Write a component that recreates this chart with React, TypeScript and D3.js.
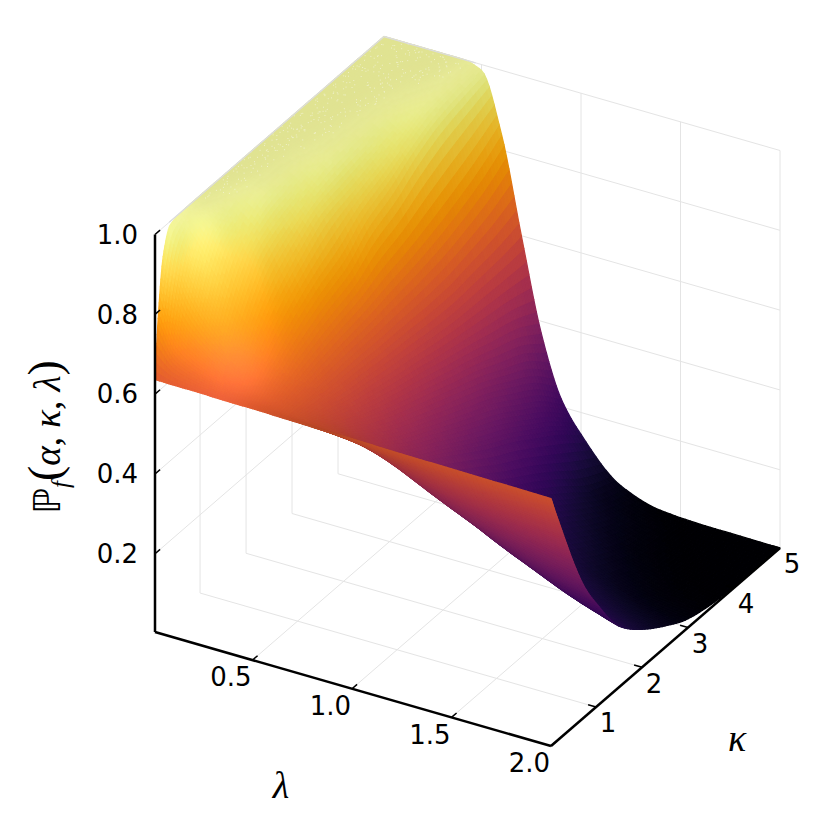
import { useMemo } from 'react'
import * as d3 from 'd3'

const lambdaGrid = [0.01, 0.1, 0.2, 0.3, 0.4, 0.5, 0.6, 0.7, 0.8, 0.9, 1.0, 1.2, 1.4, 1.6, 1.8, 2.0]
const kappaGrid = [0.02, 0.1, 0.2, 0.35, 0.5, 0.75, 1, 1.5, 2, 2.5, 3, 3.5, 4, 4.5, 5]

// one row per kappa, one column per lambda
const surfaceZ = [
  [0.637, 0.636, 0.636, 0.635, 0.634, 0.634, 0.633, 0.632, 0.631, 0.63, 0.63, 0.628, 0.627, 0.626, 0.625, 0.624],
  [0.8, 0.71, 0.68, 0.664, 0.652, 0.642, 0.634, 0.628, 0.623, 0.618, 0.614, 0.607, 0.601, 0.596, 0.592, 0.587],
  [0.927, 0.787, 0.733, 0.698, 0.673, 0.654, 0.638, 0.626, 0.615, 0.606, 0.598, 0.584, 0.572, 0.562, 0.553, 0.544],
  [0.99, 0.885, 0.803, 0.748, 0.706, 0.672, 0.644, 0.622, 0.604, 0.589, 0.574, 0.55, 0.529, 0.51, 0.495, 0.48],
  [0.997, 0.938, 0.864, 0.793, 0.737, 0.69, 0.65, 0.619, 0.593, 0.571, 0.55, 0.515, 0.485, 0.46, 0.438, 0.418],
  [1, 0.982, 0.93, 0.857, 0.783, 0.718, 0.66, 0.614, 0.577, 0.543, 0.513, 0.461, 0.42, 0.386, 0.355, 0.329],
  [1, 0.993, 0.954, 0.906, 0.82, 0.74, 0.668, 0.609, 0.562, 0.52, 0.482, 0.418, 0.37, 0.326, 0.289, 0.264],
  [1, 1, 0.991, 0.943, 0.876, 0.778, 0.682, 0.602, 0.537, 0.478, 0.428, 0.352, 0.282, 0.235, 0.191, 0.157],
  [1, 1, 0.994, 0.965, 0.92, 0.807, 0.693, 0.594, 0.516, 0.447, 0.389, 0.291, 0.225, 0.167, 0.128, 0.099],
  [1, 1, 0.998, 0.987, 0.934, 0.86, 0.71, 0.589, 0.497, 0.416, 0.349, 0.247, 0.168, 0.116, 0.08, 0.058],
  [1, 1, 1, 0.992, 0.952, 0.89, 0.725, 0.583, 0.476, 0.387, 0.31, 0.2, 0.124, 0.07, 0.04, 0.026],
  [1, 1, 1, 0.995, 0.968, 0.93, 0.745, 0.58, 0.457, 0.358, 0.276, 0.158, 0.085, 0.04, 0.018, 0.012],
  [1, 1, 1, 0.998, 0.99, 0.96, 0.77, 0.585, 0.433, 0.32, 0.236, 0.114, 0.05, 0.02, 0.01, 0.006],
  [1, 1, 1, 1, 0.998, 0.975, 0.8, 0.59, 0.41, 0.28, 0.195, 0.07, 0.03, 0.012, 0.006, 0.004],
  [1, 1, 1, 1, 1, 0.985, 0.84, 0.6, 0.37, 0.22, 0.145, 0.045, 0.012, 0.006, 0.005, 0.004],
]

const lambdaTicks = [0.5, 1.0, 1.5, 2.0]
const kappaTicks = [1, 2, 3, 4, 5]
const zTicks = [0.2, 0.4, 0.6, 0.8, 1.0]

const lx = d3.scaleLinear().domain([0.01, 2]).range([0, 1])
const ky = d3.scaleLinear().domain([0.02, 5]).range([0, 1])
const lz = d3.scaleLinear().domain([0.004, 1]).range([0, 1])

// azimuth 30, elevation 30, box side about 457px
const project = (l: number, k: number, z: number): [number, number] => [
  155 + 396 * lx(l) + 229 * ky(k),
  632 + 114 * lx(l) - 198 * ky(k) - 397.5 * lz(z),
]
const view = [0.433, -0.75, 0.5]

// monotone cubic through the table values, only to get a smooth mesh
function smooth(xs: number[], ys: number[], sub: number) {
  const n = xs.length
  const h = d3.range(n - 1).map(i => xs[i + 1] - xs[i])
  const d = h.map((hi, i) => (ys[i + 1] - ys[i]) / hi)
  const m = xs.map((_, i) => {
    if (i === 0) return d[0]
    if (i === n - 1) return d[n - 2]
    if (d[i - 1] * d[i] <= 0) return 0
    const w1 = 2 * h[i] + h[i - 1]
    const w2 = h[i] + 2 * h[i - 1]
    return (w1 + w2) / (w1 / d[i - 1] + w2 / d[i])
  })
  const out: number[] = []
  for (let i = 0; i < n - 1; i++) {
    for (let j = 0; j < sub; j++) {
      const t = j / sub
      const a = 2 * t * t * t - 3 * t * t + 1
      const b = t * t * t - 2 * t * t + t
      const c = -2 * t * t * t + 3 * t * t
      const e = t * t * t - t * t
      out.push(a * ys[i] + b * h[i] * m[i] + c * ys[i + 1] + e * h[i] * m[i + 1])
    }
  }
  out.push(ys[n - 1])
  return out
}

function denseAxis(xs: number[], sub: number) {
  const out: number[] = []
  for (let i = 0; i < xs.length - 1; i++) {
    for (let j = 0; j < sub; j++) out.push(xs[i] + ((xs[i + 1] - xs[i]) * j) / sub)
  }
  out.push(xs[xs.length - 1])
  return out
}

const SUB = 8
const colorScale = d3.scaleSequential(d3.interpolateInferno).domain([0.004, 1])
const pathLine = d3.line().curve(d3.curveLinearClosed)

function buildSurface() {
  const ls = denseAxis(lambdaGrid, SUB)
  const ks = denseAxis(kappaGrid, SUB)
  const rows = surfaceZ.map(r => smooth(lambdaGrid, r, SUB))
  const cols = ls.map((_, i) => smooth(kappaGrid, rows.map(r => r[i]), SUB).map(v => Math.min(1, v)))
  const w = ls.length - 1
  const h = ks.length - 1

  // shading from the normal in box coordinates, softened so the mesh does not show
  const shade = new Float64Array(w * h)
  for (let i = 0; i < w; i++) {
    for (let j = 0; j < h; j++) {
      const ax = lx(ls[i + 1]) - lx(ls[i])
      const ay = ky(ks[j + 1]) - ky(ks[j])
      const az = (lz(cols[i + 1][j]) - lz(cols[i][j]) + lz(cols[i + 1][j + 1]) - lz(cols[i][j + 1])) / 2
      const bz = (lz(cols[i][j + 1]) - lz(cols[i][j]) + lz(cols[i + 1][j + 1]) - lz(cols[i + 1][j])) / 2
      const n = [-az * ay, -bz * ax, ax * ay]
      const len = Math.hypot(n[0], n[1], n[2])
      shade[j * w + i] = Math.abs(n[0] * view[0] + n[1] * view[1] + n[2] * view[2]) / len
    }
  }
  d3.blur2({ data: shade, width: w, height: h }, 3)

  const cells: { d: string; fill: string; depth: number }[] = []
  const specks: [number, number][] = []
  for (let i = 0; i < w; i++) {
    for (let j = 0; j < h; j++) {
      const z00 = cols[i][j]
      const z10 = cols[i + 1][j]
      const z01 = cols[i][j + 1]
      const z11 = cols[i + 1][j + 1]
      const zm = (z00 + z10 + z01 + z11) / 4
      const dot = shade[j * w + i]
      const light = 0.78 + 0.22 * dot
      const spec = 34 * Math.pow(dot, 12)
      const c = d3.rgb(colorScale(zm))
      const fill = d3.rgb(c.r * light + spec, c.g * light + spec * 0.6, c.b * light + spec).formatHex()
      const lm = (ls[i] + ls[i + 1]) / 2
      const km = (ks[j] + ks[j + 1]) / 2
      const p00 = project(ls[i], ks[j], z00)
      cells.push({
        d: pathLine([
          p00,
          project(ls[i + 1], ks[j], z10),
          project(ls[i + 1], ks[j + 1], z11),
          project(ls[i], ks[j + 1], z01),
        ]) as string,
        fill,
        depth: view[0] * lx(lm) + view[1] * ky(km) + view[2] * lz(zm),
      })
      // pinholes on the flat top of the original rendering
      const s = Math.sin(i * 12.9898 + j * 78.233) * 43758.5453
      const hash = s - Math.floor(s)
      if (zm > 0.9985 && hash < 0.3) {
        specks.push([p00[0] + ((hash * 37) % 1) * 7, p00[1] + ((hash * 91) % 1) * 6 - 3])
      }
    }
  }
  cells.sort((a, b) => d3.ascending(a.depth, b.depth))
  return { cells, specks }
}

const GRID = '#e4e4e4'
const L0 = 0.01
const L1 = 2
const K0 = 0.02
const K1 = 5
const Z0 = 0.004
const Z1 = 1

function Seg({ a, b, stroke, w }: { a: [number, number]; b: [number, number]; stroke: string; w: number }) {
  return <line x1={a[0]} y1={a[1]} x2={b[0]} y2={b[1]} stroke={stroke} strokeWidth={w} />
}

export default function App() {
  const { cells, specks } = useMemo(buildSurface, [])
  const mathFont = '"Liberation Serif", serif'
  return (
    <svg
      width={831}
      height={820}
      style={{ position: 'absolute', left: 0, top: 0, background: '#fff' }}
      fontFamily='"DejaVu Sans", sans-serif'
    >
      <g>
        {lambdaTicks.map(t => (
          <g key={t}>
            <Seg a={project(t, K0, Z0)} b={project(t, K1, Z0)} stroke={GRID} w={1} />
            <Seg a={project(t, K1, Z0)} b={project(t, K1, Z1)} stroke={GRID} w={1} />
          </g>
        ))}
        {kappaTicks.map(t => (
          <g key={t}>
            <Seg a={project(L0, t, Z0)} b={project(L1, t, Z0)} stroke={GRID} w={1} />
            <Seg a={project(L0, t, Z0)} b={project(L0, t, Z1)} stroke={GRID} w={1} />
          </g>
        ))}
        {zTicks.map(t => (
          <g key={t}>
            <Seg a={project(L0, K0, t)} b={project(L0, K1, t)} stroke={GRID} w={1} />
            <Seg a={project(L0, K1, t)} b={project(L1, K1, t)} stroke={GRID} w={1} />
          </g>
        ))}
      </g>

      <g strokeWidth={1.3} strokeLinejoin="round">
        {cells.map((c, i) => (
          <path key={i} d={c.d} fill={c.fill} stroke={c.fill} />
        ))}
      </g>
      <g fill="#fff" opacity={0.5}>
        {specks.map((s, i) => (
          <rect key={i} x={s[0]} y={s[1]} width={1} height={1} />
        ))}
      </g>

      <Seg a={project(L0, 0.33, Z1)} b={project(L0, K1, Z1)} stroke="#dcdcdc" w={1.4} />
      <Seg a={project(L0, K1, Z1)} b={project(0.47, K1, Z1)} stroke="#dcdcdc" w={1.4} />

      <g>
        <Seg a={project(L0, K0, Z0)} b={project(L0, K0, Z1)} stroke="#000" w={2.5} />
        <Seg a={project(L0, K0, Z0)} b={project(L1, K0, Z0)} stroke="#000" w={2.5} />
        <Seg a={project(L1, K0, Z0)} b={project(L1, K1, Z0)} stroke="#000" w={2.5} />
        {lambdaTicks.map(t => (
          <Seg key={t} a={project(t, K0, Z0)} b={project(t, 0.13, Z0)} stroke="#000" w={1.5} />
        ))}
        {kappaTicks.map(t => (
          <Seg key={t} a={project(L1, t, Z0)} b={project(1.96, t, Z0)} stroke="#000" w={1.5} />
        ))}
        {zTicks.map(t => (
          <Seg key={t} a={project(L0, K0, t)} b={project(L0, 0.13, t)} stroke="#000" w={1.5} />
        ))}
      </g>

      <g fontSize={26} fill="#000">
        {zTicks.map(t => (
          <text key={t} x={138} y={project(L0, K0, t)[1]} dy="0.36em" textAnchor="end">
            {t.toFixed(1)}
          </text>
        ))}
        {lambdaTicks.map(t => (
          <text key={t} x={project(t, K0, Z0)[0] - 1} y={project(t, K0, Z0)[1] + 17} dy="0.36em" textAnchor="end">
            {t.toFixed(1)}
          </text>
        ))}
        {kappaTicks.map(t => (
          <text key={t} x={project(L1, t, Z0)[0] + 12} y={project(L1, t, Z0)[1] + 16} dy="0.36em" textAnchor="middle">
            {t}
          </text>
        ))}
      </g>

      <text x={737} y={751} fontFamily={mathFont} fontStyle="italic" fontSize={38} textAnchor="middle">
        κ
      </text>
      <text x={281} y={798} fontFamily={mathFont} fontStyle="italic" fontSize={38} textAnchor="middle">
        λ
      </text>
      <text transform="translate(60,437) rotate(-90)" textAnchor="middle" fontSize={37} fontFamily={mathFont}>
        <tspan fontFamily='"DejaVu Sans", sans-serif' fontSize={37}>ℙ</tspan>
        <tspan fontStyle="italic" fontSize={25} dy={9}>f</tspan>
        <tspan dy={-9} fontSize={46}>(</tspan>
        <tspan fontStyle="italic">α</tspan>
        <tspan>, </tspan>
        <tspan fontStyle="italic">κ</tspan>
        <tspan>, </tspan>
        <tspan fontStyle="italic">λ</tspan>
        <tspan fontSize={46}>)</tspan>
      </text>
    </svg>
  )
}
